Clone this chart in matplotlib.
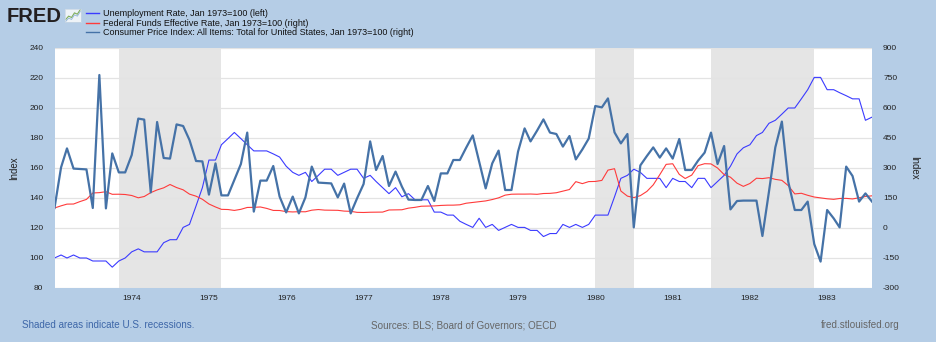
import pandas as pd
import matplotlib.pyplot as plt
import matplotlib.dates as mdates
from matplotlib.lines import Line2D

plt.rcParams['font.family'] = ['Liberation Sans', 'DejaVu Sans']
plt.rcParams['axes.unicode_minus'] = False

# Monthly series, Jan 1973 = 100
dates = pd.date_range("1973-01-01", "1983-08-01", freq="MS")

unemployment = [
    100.0, 102.0, 100.0, 102.0, 100.0, 100.0, 98.0, 98.0, 98.0, 93.9, 98.0, 100.0,
    104.1, 106.1, 104.1, 104.1, 104.1, 110.2, 112.2, 112.2, 120.4, 122.4, 134.7, 146.9,
    165.3, 165.3, 175.5, 179.6, 183.7, 179.6, 175.5, 171.4, 171.4, 171.4, 169.4, 167.3,
    161.2, 157.1, 155.1, 157.1, 151.0, 155.1, 159.2, 159.2, 155.1, 157.1, 159.2, 159.2,
    153.1, 155.1, 151.0, 146.9, 142.9, 146.9, 140.8, 142.9, 138.8, 138.8, 138.8, 130.6,
    130.6, 128.6, 128.6, 124.5, 122.4, 120.4, 126.5, 120.4, 122.4, 118.4, 120.4, 122.4,
    120.4, 120.4, 118.4, 118.4, 114.3, 116.3, 116.3, 122.4, 120.4, 122.4, 120.4, 122.4,
    128.6, 128.6, 128.6, 140.8, 153.1, 155.1, 159.2, 157.1, 153.1, 153.1, 153.1, 146.9,
    153.1, 151.0, 151.0, 146.9, 153.1, 153.1, 146.9, 151.0, 155.1, 161.2, 169.4, 173.5,
    175.5, 181.6, 183.7, 189.8, 191.8, 195.9, 200.0, 200.0, 206.1, 212.2, 220.4, 220.4,
    212.2, 212.2, 210.2, 208.2, 206.1, 206.1, 191.8, 193.9,
]

fed_funds = [
    100.0, 110.8, 119.4, 119.9, 132.0, 142.9, 175.1, 176.8, 181.5, 168.5, 168.9, 167.5,
    162.5, 151.0, 157.4, 176.9, 190.4, 200.8, 217.5, 202.2, 190.9, 169.4, 159.1, 143.6,
    120.0, 105.1, 93.3, 92.4, 87.9, 93.4, 102.7, 103.4, 105.1, 98.0, 87.9, 87.5,
    82.0, 80.3, 81.5, 81.1, 89.1, 92.3, 89.4, 89.1, 88.4, 84.5, 83.3, 78.3,
    77.6, 78.8, 79.0, 79.6, 90.1, 90.7, 91.2, 99.3, 103.4, 108.9, 109.6, 110.4,
    112.8, 114.1, 114.3, 116.0, 123.9, 127.9, 131.5, 135.4, 142.3, 150.8, 164.3, 168.9,
    169.5, 169.4, 169.9, 168.5, 172.4, 173.2, 176.3, 184.2, 192.4, 231.8, 221.9, 232.0,
    232.7, 237.9, 289.4, 296.5, 184.8, 159.4, 152.0, 161.8, 183.0, 215.7, 266.8, 318.2,
    321.2, 268.2, 247.5, 264.6, 311.8, 321.5, 320.5, 300.0, 267.2, 253.9, 224.1, 208.2,
    222.6, 248.8, 247.1, 251.5, 243.3, 238.2, 212.0, 170.4, 173.6, 163.5, 154.9, 150.7,
    146.1, 143.3, 147.6, 148.1, 145.3, 151.2, 157.7, 160.9,
]

cpi = [
    100, 303, 398, 297, 295, 293, 100, 765, 98, 373, 278, 278,
    365, 547, 542, 178, 530, 350, 347, 518, 510, 440, 335, 333,
    167, 323, 163, 163, 240, 320, 477, 82, 237, 237, 310, 157,
    78, 157, 73, 153, 307, 227, 225, 223, 153, 222, 73, 148,
    220, 433, 290, 360, 210, 282, 207, 142, 140, 140, 210, 135,
    273, 273, 340, 340, 402, 463, 332, 198, 323, 387, 190, 190,
    382, 498, 433, 487, 543, 477, 470, 407, 460, 343, 393, 447,
    610, 603, 648, 478, 423, 470, 3, 313, 360, 403, 352, 398,
    347, 445, 290, 290, 337, 377, 477, 320, 410, 93, 135, 137,
    137, 137, -40, 182, 403, 532, 232, 90, 90, 132, -80, -168,
    90, 48, 3, 307, 260, 132, 173, 132,
]

recessions = [("1973-11-01", "1975-03-01"), ("1980-01-01", "1980-07-01"), ("1981-07-01", "1982-11-01")]

labels = [
    "Unemployment Rate, Jan 1973=100 (left)",
    "Federal Funds Effective Rate, Jan 1973=100 (right)",
    "Consumer Price Index: All Items: Total for United States, Jan 1973=100 (right)",
]
colors = ["#3b3bff", "#ff3b3b", "#4572a7"]

bg = "#b5cde6"
fig = plt.figure(figsize=(9.36, 3.42), dpi=100, facecolor=bg)
ax = fig.add_axes([54.5 / 936, 1 - 288 / 342, 817.5 / 936, 240 / 342])
ax2 = ax.twinx()

# recession bands and grid
for start, end in recessions:
    ax.axvspan(pd.Timestamp(start), pd.Timestamp(end), color="#e5e5e5", lw=0, zorder=0)
ax.grid(axis="y", color="#e3e3e3", lw=0.9)
ax.set_axisbelow(True)

ax.plot(dates, unemployment, color=colors[0], lw=0.8)
ax2.plot(dates, fed_funds, color=colors[1], lw=0.8)
ax2.plot(dates, cpi, color=colors[2], lw=1.6)

ax.set_xlim(dates[0], dates[-1])
ax.set_ylim(80, 240)
ax.set_yticks(range(80, 241, 20))
ax2.set_ylim(-300, 900)
ax2.set_yticks(range(-300, 901, 150))
ax.xaxis.set_major_formatter(mdates.DateFormatter("%Y"))
ax.set_xticks([pd.Timestamp(f"{y}-01-01") for y in range(1974, 1984)])

for a in (ax, ax2):
    for s in a.spines.values():
        s.set_visible(False)
    a.tick_params(length=0, labelsize=6, colors="#222222")
ax.tick_params(axis="y", pad=8)
ax2.tick_params(axis="y", pad=8)
ax.tick_params(axis="x", pad=5)
for t in ax2.get_yticklabels():
    t.set_horizontalalignment("left")

ax.set_ylabel("Index", fontsize=7, color="#222222", labelpad=7)
ax2.set_ylabel("Index", fontsize=7, color="#222222", rotation=270, labelpad=14)

# header: logo and legend
fig.text(7 / 936, 1 - 17 / 342, "FRED", fontsize=14.5, fontweight="bold", color="#231f20",
         va="center", ha="left")
logo = fig.add_axes([65 / 936, 1 - 22 / 342, 16 / 936, 13 / 342])
logo.set_facecolor("#eef3f7")
logo_line = [1, 2, 1.6, 3, 2.6, 4]
logo.plot(logo_line, color="#7fae5a", lw=0.8)
logo.plot([v - 0.6 for v in logo_line], color="#8fb3d8", lw=0.6)
logo.set_xticks([])
logo.set_yticks([])
for s in logo.spines.values():
    s.set_color("#c8d6e3")
    s.set_linewidth(0.5)

handles = [Line2D([], [], color=c, lw=1.0) for c in colors]
fig.legend(handles, labels, loc="upper left", bbox_to_anchor=(86 / 936, 1 - 9 / 342),
           frameon=False, fontsize=6.5, handlelength=1.4, handletextpad=0.5,
           labelspacing=0.08, borderpad=0, borderaxespad=0, labelcolor="#111111")

# footer
fig.text(22 / 936, 1 - 325 / 342, "Shaded areas indicate U.S. recessions.", fontsize=7.1,
         color="#3d66a8", va="center", ha="left")
fig.text(464 / 936, 1 - 325 / 342, "Sources: BLS; Board of Governors; OECD", fontsize=7.1,
         color="#666666", va="center", ha="center")
fig.text(900 / 936, 1 - 325 / 342, "fred.stlouisfed.org", fontsize=7.1,
         color="#666666", va="center", ha="right")

fig.savefig("out.png", dpi=100, facecolor=bg)
